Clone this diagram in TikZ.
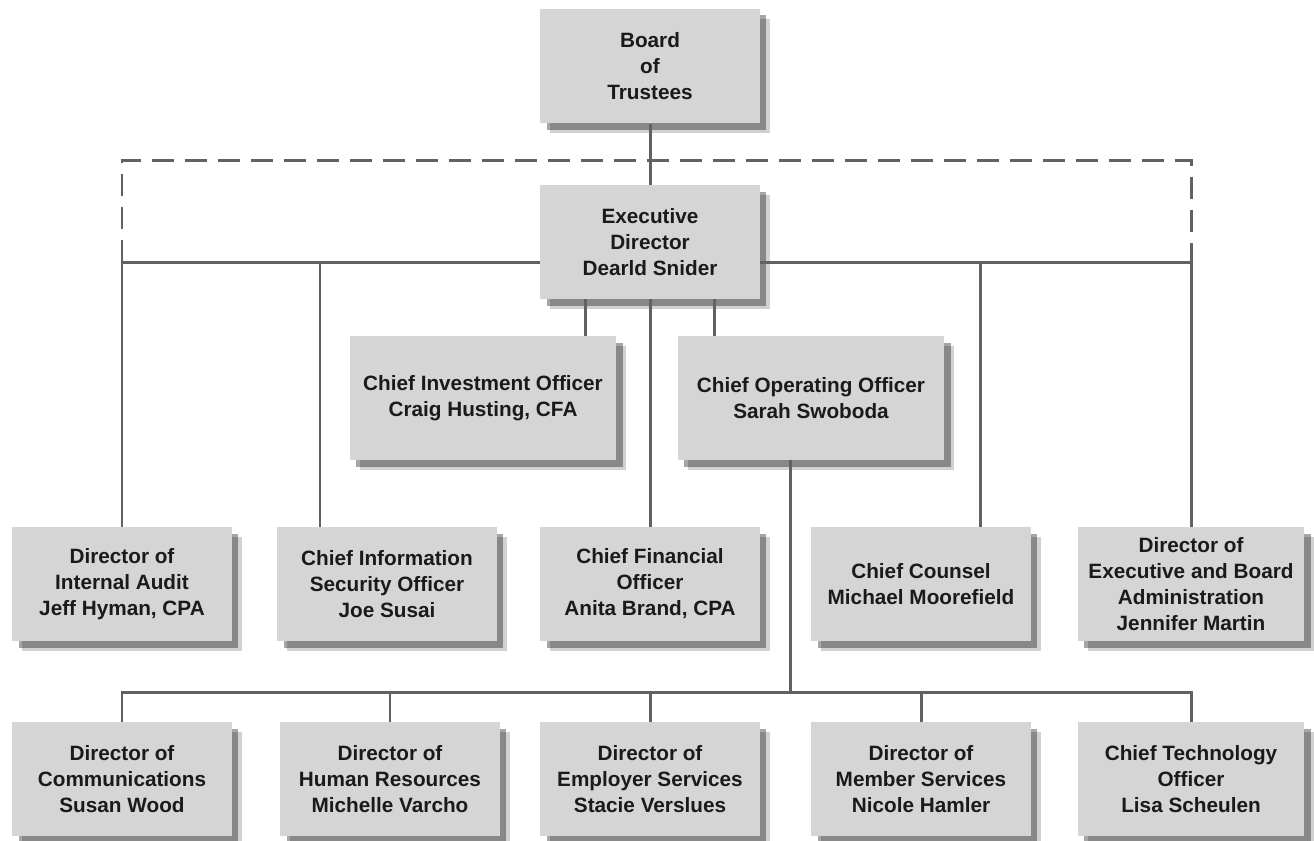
\documentclass[tikz,border=0pt]{standalone}
\usepackage{fontspec}
\setmainfont{Liberation Sans}
\usetikzlibrary{shadows}
\definecolor{boxgray}{HTML}{D5D5D5}
\definecolor{linegray}{HTML}{616165}
\definecolor{txtgray}{HTML}{1A1A1A}
\newcommand{\orgfont}{\fontsize{11.8}{14.8}\selectfont\bfseries}
\tikzset{
  post/.style={fill=boxgray, text=txtgray, font=\orgfont, align=center,
    inner sep=2pt, minimum width=4.4cm, minimum height=2.28cm,
    drop shadow={shadow xshift=0.2cm, shadow yshift=-0.2cm, fill=black, opacity=0.18},
    drop shadow={shadow xshift=0.13cm, shadow yshift=-0.13cm, fill=black, opacity=0.35}},
  widepost/.style={post, minimum width=5.34cm, minimum height=2.48cm},
  link/.style={draw=linegray, line width=1.7pt},
  dashlink/.style={link, dash pattern=on 0.44cm off 0.22cm},
}

\begin{document}
\begin{tikzpicture}[x=0.02cm, y=-0.02cm]
    \fill[white] (0,0) rectangle (1314,840);
    \useasboundingbox (0,0) rectangle (1314,840);
    \node[post, minimum height=2.3cm] (board) at (650,66) {Board\\of\\Trustees};
    \node[post] (exec) at (650,242) {Executive\\Director\\Dearld Snider};
    \node[widepost] (cio) at (483,398) {Chief Investment Officer\\Craig Husting, CFA};
    \node[widepost] (coo) at (811,398) {Chief Operating Officer\\Sarah Swoboda};
    % third row
    \node[post] (audit) at (122,584) {Director of\\Internal Audit\\Jeff Hyman, CPA};
    \node[post] (ciso) at (387,584) {Chief Information\\Security Officer\\Joe Susai};
    \node[post] (cfo) at (650,584) {Chief Financial\\Officer\\Anita Brand, CPA};
    \node[post] (counsel) at (921,584) {Chief Counsel\\Michael Moorefield};
    \node[post, minimum width=4.54cm] (admin) at (1191,584) {Director of\\Executive and Board\\Administration\\Jennifer Martin};
    % bottom row
    \node[post] (comm) at (122,779) {Director of\\Communications\\Susan Wood};
    \node[post] (hr) at (390,779) {Director of\\Human Resources\\Michelle Varcho};
    \node[post] (emp) at (650,779) {Director of\\Employer Services\\Stacie Verslues};
    \node[post] (member) at (921,779) {Director of\\Member Services\\Nicole Hamler};
    \node[post, minimum width=4.54cm] (cto) at (1191,779) {Chief Technology\\Officer\\Lisa Scheulen};

    \coordinate (bar) at (650,262);
    \coordinate (dashL) at (122,160);
    \coordinate (dashR) at (1191,160);
    \coordinate (cisoIn) at (320,262);
    \coordinate (counselIn) at (980,262);
    \coordinate (cioIn) at (585,299);
    \coordinate (cooIn) at (714,299);
    \coordinate (cooOut) at (790,460);
    \coordinate (low) at (790,692);

    \draw[link] (board) -- (exec);
    \draw[dashlink] (audit.north |- bar) -- (dashL) -- (dashR) -- (admin.north |- bar);
    \draw[link] (audit.north) -- (audit.north |- bar) -- (bar -| exec.west);
    \draw[link] (bar -| exec.east) -- (admin.north |- bar) -- (admin.north);
    \draw[link] (cisoIn) -- (cisoIn |- ciso.north);
    \draw[link] (counselIn) -- (counselIn |- counsel.north);
    \draw[link] (cioIn) -- (cioIn |- cio.north);
    \draw[link] (cooIn) -- (cooIn |- coo.north);
    \draw[link] (exec) -- (cfo);
    \draw[link] (cooOut) -- (low);
    \draw[link] (comm.north) -- (comm.north |- low) -- (cto.north |- low) -- (cto.north);
    \draw[link] (hr.north |- low) -- (hr.north);
    \draw[link] (emp.north |- low) -- (emp.north);
    \draw[link] (member.north |- low) -- (member.north);
\end{tikzpicture}
\end{document}
